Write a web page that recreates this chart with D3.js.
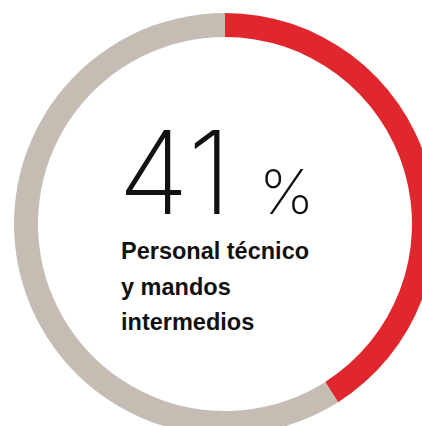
<!DOCTYPE html>
<html>
<head>
<meta charset="utf-8">
<script src="https://cdn.jsdelivr.net/npm/d3@7"></script>
<style>
  html, body { margin: 0; padding: 0; background: #ffffff; overflow: hidden; }
  svg { display: block; }
</style>
</head>
<body>
<svg id="chart" width="422" height="426"></svg>
<script>
// Share of staff in the highlighted group vs. the rest
const categories = ["Personal técnico y mandos intermedios", "Resto"];
const shares = [41, 59];
const colors = ["#e0272e", "#c5bdb4"];
const valueLabel = "41";
const unitLabel = "%";
const captionLines = ["Personal técnico", "y mandos", "intermedios"];

const svg = d3.select("#chart");
const cx = 225, cy = 224;
const outerR = 211, innerR = 187;

const pie = d3.pie().sort(null).value(d => d)(shares);
const arc = d3.arc().innerRadius(innerR).outerRadius(outerR);

svg.append("g")
  .attr("transform", `translate(${cx},${cy})`)
  .selectAll("path")
  .data(pie)
  .join("path")
  .attr("d", arc)
  .attr("fill", (d, i) => colors[i]);

// Big percentage value
svg.append("text")
  .attr("x", 118)
  .attr("y", 214)
  .attr("font-family", "Inter, Roboto, sans-serif")
  .attr("font-weight", 200)
  .attr("font-size", 116)
  .attr("letter-spacing", 0)
  .attr("fill", "#111")
  .text(valueLabel);

svg.append("text")
  .attr("x", 259)
  .attr("y", 214)
  .attr("font-family", "Inter, Roboto, sans-serif")
  .attr("font-weight", 200)
  .attr("font-size", 62)
  .attr("fill", "#111")
  .text(unitLabel);

// Caption
svg.append("g")
  .selectAll("text")
  .data(captionLines)
  .join("text")
  .attr("x", 121)
  .attr("y", (d, i) => 259 + i * 35.5)
  .attr("font-family", "'Liberation Sans', Arial, sans-serif")
  .attr("font-weight", 700)
  .attr("font-size", 23.5)
  .attr("fill", "#111")
  .text(d => d);
</script>
</body>
</html>
